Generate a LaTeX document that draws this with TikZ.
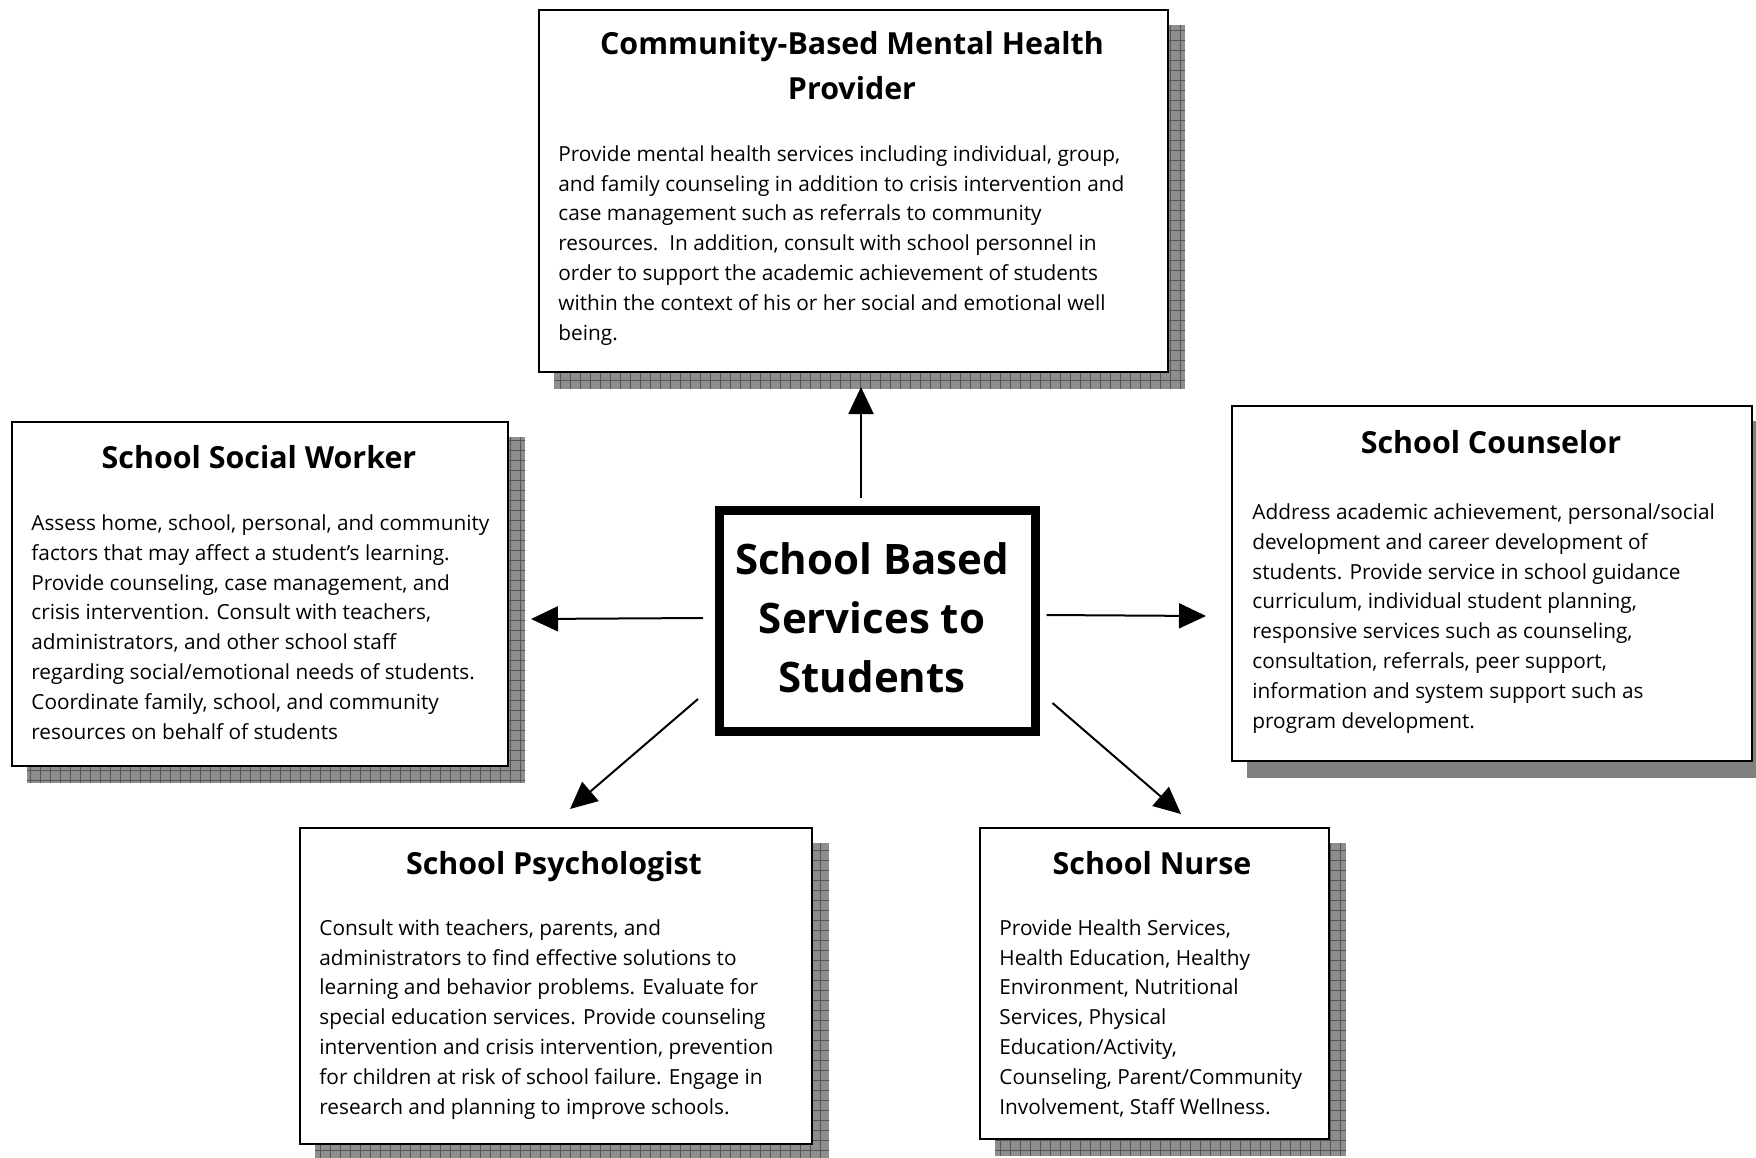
\documentclass[tikz,border=0pt]{standalone}
\usepackage{fontspec}
\setmainfont{Open Sans}
\usetikzlibrary{arrows.meta,backgrounds,calc}

\definecolor{shadefill}{RGB}{142,142,142}
\definecolor{shadegrid}{RGB}{85,85,85}
\definecolor{shadeplain}{RGB}{128,128,128}

\tikzset{
  card/.style={draw=black, line width=1pt, fill=white, inner sep=0pt, anchor=north west},
  hub/.style={draw=black, line width=4.5pt, fill=white, inner sep=0pt, anchor=north west},
  % multi-line nodes: the base anchor sits on the last line
  cardtitle/.style={inner sep=0pt, anchor=base, align=center,
    font=\fontsize{15.2}{22.4}\selectfont\bfseries},
  hubtitle/.style={inner sep=0pt, anchor=base, align=center,
    font=\fontsize{21}{29.5}\selectfont\bfseries},
  cardbody/.style={inner sep=0pt, anchor=base west, align=left,
    font=\fontsize{10.4}{14.9}\selectfont},
  arr/.style={draw=black, line width=1pt, -{Triangle[length=13.5pt,width=12.5pt]}},
}

% grid-textured drop shadow behind a card
\newcommand{\gridshadow}[1]{%
  \begin{scope}
    \clip ([xshift=8pt,yshift=-8pt]#1.south west) rectangle ([xshift=8pt,yshift=-8pt]#1.north east);
    \fill[shadefill] ([xshift=8pt,yshift=-8pt]#1.south west) rectangle ([xshift=8pt,yshift=-8pt]#1.north east);
    \draw[shadegrid, line width=0.45pt, step=5pt]
      ([xshift=8pt,yshift=-8pt]#1.south west) grid ([xshift=13pt,yshift=-3pt]#1.north east);
  \end{scope}}

\begin{document}
\begin{tikzpicture}[x=0.5pt,y=-0.5pt]
\useasboundingbox (0,0) rectangle (1756,1157);

% boxes
\node[card, minimum width=314.5pt, minimum height=181pt] (cmh) at (538,9) {};
\node[card, minimum width=248pt, minimum height=172pt] (sw) at (11,421) {};
\node[card, minimum width=260pt, minimum height=177.5pt] (co) at (1231,405) {};
\node[hub, minimum width=158pt, minimum height=110.5pt] (ctr) at (715,506) {};
\node[card, minimum width=256pt, minimum height=158pt] (ps) at (299,827) {};
\node[card, minimum width=174.5pt, minimum height=155.5pt] (nu) at (979,827) {};

% shadows
\begin{scope}[on background layer]
  \gridshadow{cmh}
  \gridshadow{sw}
  \gridshadow{ps}
  \gridshadow{nu}
  \fill[shadeplain] ([xshift=8pt,yshift=-8pt]co.south west) rectangle ([xshift=8pt,yshift=-8pt]co.north east);
\end{scope}

% centre
\node[hubtitle] (ctrt) at (872,692) {School Based\\Services to\\Students};

% community-based provider
\node[cardtitle] (cmht) at (852,99) {Community-Based Mental Health\\Provider};
\node[cardbody] (cmhb) at (558,340) {Provide mental health services including individual, group,\\
and family counseling in addition to crisis intervention and\\
case management such as referrals to community\\
resources.\ \ In addition, consult with school personnel in\\
order to support the academic achievement of students\\
within the context of his or her social and emotional well\\
being.};

% social worker
\node[cardtitle] (swt) at (259,468) {School Social Worker};
\node[cardbody] (swb) at (31,739) {Assess home, school, personal, and community\\
factors that may affect a student’s learning.\\
Provide counseling, case management, and\\
crisis intervention. Consult with teachers,\\
administrators, and other school staff\\
regarding social/emotional needs of students.\\
Coordinate family, school, and community\\
resources on behalf of students};

% counselor
\node[cardtitle] (cot) at (1491,453) {School Counselor};
\node[cardbody] (cob) at (1252,728) {Address academic achievement, personal/social\\
development and career development of\\
students. Provide service in school guidance\\
curriculum, individual student planning,\\
responsive services such as counseling,\\
consultation, referrals, peer support,\\
information and system support such as\\
program development.};

% psychologist
\node[cardtitle] (pst) at (554,874) {School Psychologist};
\node[cardbody] (psb) at (319,1114) {Consult with teachers, parents, and\\
administrators to find effective solutions to\\
learning and behavior problems. Evaluate for\\
special education services. Provide counseling\\
intervention and crisis intervention, prevention\\
for children at risk of school failure. Engage in\\
research and planning to improve schools.};

% nurse
\node[cardtitle] (nut) at (1152,874) {School Nurse};
\node[cardbody] (nub) at (999,1114) {Provide Health Services,\\
Health Education, Healthy\\
Environment, Nutritional\\
Services, Physical\\
Education/Activity,\\
Counseling, Parent/Community\\
Involvement, Staff Wellness.};

% connectors
\draw[arr] ([xshift=-8.25pt,yshift=4pt]ctr.north) -- ([xshift=3.75pt,yshift=-7pt]cmh.south);
\draw[arr] ([xshift=-6pt,yshift=1.5pt]ctr.west) -- ([xshift=11pt,yshift=-12.5pt]sw.east);
\draw[arr] ([xshift=3.25pt,yshift=3pt]ctr.east) -- ([xshift=-12.5pt,yshift=-16.25pt]co.west);
\draw[arr] ([xshift=-8.5pt,yshift=18.5pt]ctr.south west) -- ([xshift=7pt,yshift=9pt]ps.north);
\draw[arr] ([xshift=6.25pt,yshift=16.5pt]ctr.south east) -- ([xshift=13.25pt,yshift=6.5pt]nu.north);
\end{tikzpicture}
\end{document}
